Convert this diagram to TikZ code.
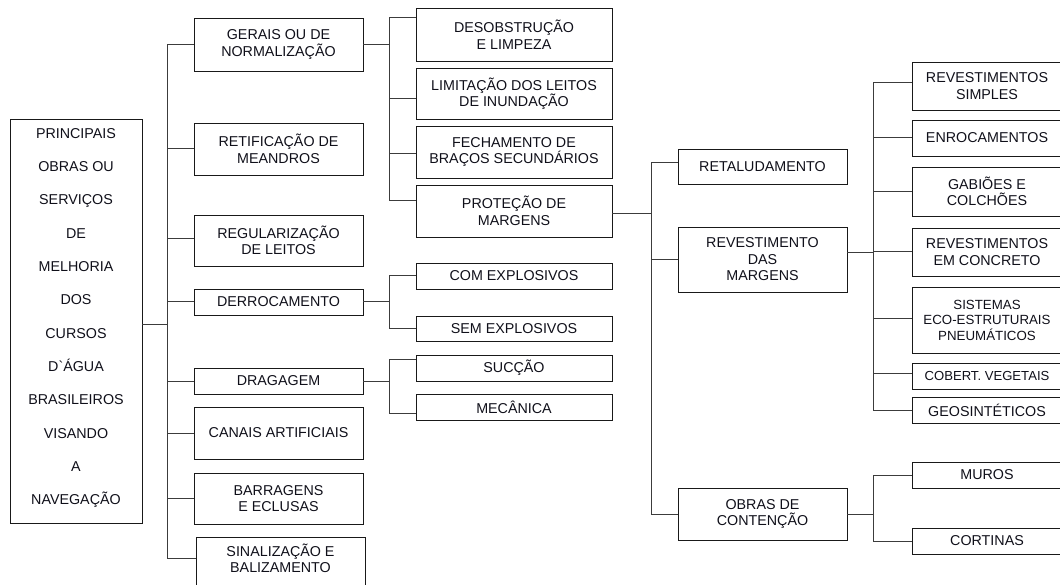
\documentclass[tikz,border=0pt]{standalone}
\usepackage{fontspec}
\setmainfont{Liberation Sans}[Ligatures=TeXOff]
\definecolor{borda}{RGB}{25,25,25}
\definecolor{linha}{RGB}{60,60,60}
\definecolor{texto}{RGB}{15,15,25}

\begin{document}
\begin{tikzpicture}[x=1pt, y=-1pt]
    \tikzstyle{caixa} = [draw=borda, line width=0.9pt, text=texto, align=center, inner sep=0pt,
                         font=\fontsize{14.3}{16.5}\selectfont]
    \tikzstyle{liga} = [draw=linha, line width=1pt]
    \useasboundingbox (0,0) rectangle (1060,585);

    % caixa principal
    \node[caixa, minimum width=132, minimum height=404, text depth=9pt, font=\fontsize{14.3}{33.3}\selectfont] (principal) at (76,321)
        {PRINCIPAIS\\OBRAS OU\\SERVIÇOS\\DE\\MELHORIA\\DOS\\CURSOS\\D`ÁGUA\\BRASILEIROS\\VISANDO\\A\\NAVEGAÇÃO};

    % primeiro nivel
    \node[caixa, minimum width=169, minimum height=53] (gerais) at (278.5,44.5) {GERAIS OU DE\\NORMALIZAÇÃO};
    \node[caixa, minimum width=169, minimum height=52] (retif) at (278.5,149) {RETIFICAÇÃO DE\\MEANDROS};
    \node[caixa, minimum width=169, minimum height=51] (regul) at (278.5,240.5) {REGULARIZAÇÃO\\DE LEITOS};
    \node[caixa, minimum width=169, minimum height=26] (derroc) at (278.5,302) {DERROCAMENTO};
    \node[caixa, minimum width=169, minimum height=26] (drag) at (278.5,381) {DRAGAGEM};
    \node[caixa, minimum width=169, minimum height=52] (canais) at (278.5,433) {CANAIS ARTIFICIAIS};
    \node[caixa, minimum width=169, minimum height=51] (barrag) at (278.5,498.5) {BARRAGENS\\E ECLUSAS};
    \node[caixa, minimum width=169, minimum height=53, text depth=11pt] (sinal) at (280.5,563.5) {SINALIZAÇÃO E\\BALIZAMENTO};

    % segundo nivel
    \node[caixa, minimum width=196, minimum height=53] (desob) at (514,34.5) {DESOBSTRUÇÃO\\E LIMPEZA};
    \node[caixa, minimum width=196, minimum height=51] (limit) at (514,93.5) {LIMITAÇÃO DOS LEITOS\\DE INUNDAÇÃO};
    \node[caixa, minimum width=196, minimum height=52] (fecha) at (514,152) {FECHAMENTO DE\\BRAÇOS SECUNDÁRIOS};
    \node[caixa, minimum width=196, minimum height=52] (protec) at (514,211) {PROTEÇÃO DE\\MARGENS};
    \node[caixa, minimum width=196, minimum height=26] (comexp) at (514,276) {COM EXPLOSIVOS};
    \node[caixa, minimum width=196, minimum height=25] (semexp) at (514,328.5) {SEM EXPLOSIVOS};
    \node[caixa, minimum width=196, minimum height=26] (succao) at (514,368) {SUCÇÃO};
    \node[caixa, minimum width=196, minimum height=26] (mecan) at (514,407) {MECÂNICA};

    % terceiro nivel
    \node[caixa, minimum width=169, minimum height=35] (retal) at (762.5,166.5) {RETALUDAMENTO};
    \node[caixa, minimum width=169, minimum height=65] (revest) at (762.5,259.5) {REVESTIMENTO\\DAS\\MARGENS};
    \node[caixa, minimum width=169, minimum height=52] (contencao) at (762.5,514) {OBRAS DE\\CONTENÇÃO};

    % quarto nivel
    \node[caixa, minimum width=150, minimum height=48] (simples) at (987,86) {REVESTIMENTOS\\SIMPLES};
    \node[caixa, minimum width=150, minimum height=36] (enroc) at (987,138) {ENROCAMENTOS};
    \node[caixa, minimum width=150, minimum height=49] (gabioes) at (987,191.5) {GABIÕES E\\COLCHÕES};
    \node[caixa, minimum width=150, minimum height=48] (concreto) at (987,252) {REVESTIMENTOS\\EM CONCRETO};
    \node[caixa, minimum width=150, minimum height=66, font=\fontsize{13.3}{15.5}\selectfont] (sistemas) at (987,320)
        {SISTEMAS\\ECO-ESTRUTURAIS\\PNEUMÁTICOS};
    \node[caixa, minimum width=150, minimum height=26, font=\fontsize{13.1}{15}\selectfont] (cobert) at (987,376) {COBERT. VEGETAIS};
    \node[caixa, minimum width=150, minimum height=26] (geosint) at (987,410) {GEOSINTÉTICOS};
    \node[caixa, minimum width=150, minimum height=26] (muros) at (987,475) {MUROS};
    \node[caixa, minimum width=150, minimum height=26] (cortinas) at (987,541) {CORTINAS};

    % barramentos
    \coordinate (b1) at (167,0);
    \coordinate (b2) at (389,0);
    \coordinate (b3) at (651,0);
    \coordinate (b4) at (873,0);

    % principal -> primeiro nivel
    \draw[liga] ([yshift=-3pt]principal.east) -- ([yshift=-3pt]b1 |- principal.east);
    \draw[liga] (b1 |- gerais) -- ([yshift=5.5pt]b1 |- sinal);
    \foreach \n/\s in {gerais/0, retif/0, regul/1.5, derroc/0, drag/0, canais/0, barrag/0, sinal/5.5}
        \draw[liga] ([yshift=\s pt]\n.west) -- ([yshift=\s pt]b1 |- \n.west);

    % gerais
    \draw[liga] (gerais.east) -- (b2 |- gerais.east);
    \draw[liga] ([yshift=16.5pt]b2 |- desob) -- ([yshift=10pt]b2 |- protec);
    \foreach \n/\s in {desob/16.5, limit/-5.5, fecha/-2, protec/10}
        \draw[liga] ([yshift=\s pt]\n.west) -- ([yshift=\s pt]b2 |- \n.west);

    % derrocamento
    \draw[liga] (derroc.east) -- (b2 |- derroc.east);
    \draw[liga] (b2 |- comexp) -- (b2 |- semexp);
    \foreach \n in {comexp, semexp}
        \draw[liga] (\n.west) -- (b2 |- \n.west);

    % dragagem
    \draw[liga] (drag.east) -- (b2 |- drag.east);
    \draw[liga] ([yshift=9pt]b2 |- succao) -- ([yshift=-6pt]b2 |- mecan);
    \foreach \n/\s in {succao/9, mecan/-6}
        \draw[liga] ([yshift=\s pt]\n.west) -- ([yshift=\s pt]b2 |- \n.west);

    % protecao de margens
    \draw[liga] ([yshift=-3pt]protec.east) -- ([yshift=-3pt]b3 |- protec.east);
    \draw[liga] ([yshift=3.5pt]b3 |- retal) -- (b3 |- contencao);
    \foreach \n/\s in {retal/3.5, revest/0, contencao/0}
        \draw[liga] ([yshift=\s pt]\n.west) -- ([yshift=\s pt]b3 |- \n.west);

    % revestimento das margens
    \draw[liga] ([yshift=6.5pt]revest.east) -- ([yshift=6.5pt]b4 |- revest.east);
    \draw[liga] ([yshift=3pt]b4 |- simples) -- (b4 |- geosint);
    \foreach \n/\s in {simples/3, enroc/0, gabioes/0, concreto/0, sistemas/2, cobert/3, geosint/0}
        \draw[liga] ([yshift=\s pt]\n.west) -- ([yshift=\s pt]b4 |- \n.west);

    % obras de contencao
    \draw[liga] (contencao.east) -- (b4 |- contencao.east);
    \draw[liga] (b4 |- muros) -- (b4 |- cortinas);
    \foreach \n in {muros, cortinas}
        \draw[liga] (\n.west) -- (b4 |- \n.west);
\end{tikzpicture}
\end{document}
